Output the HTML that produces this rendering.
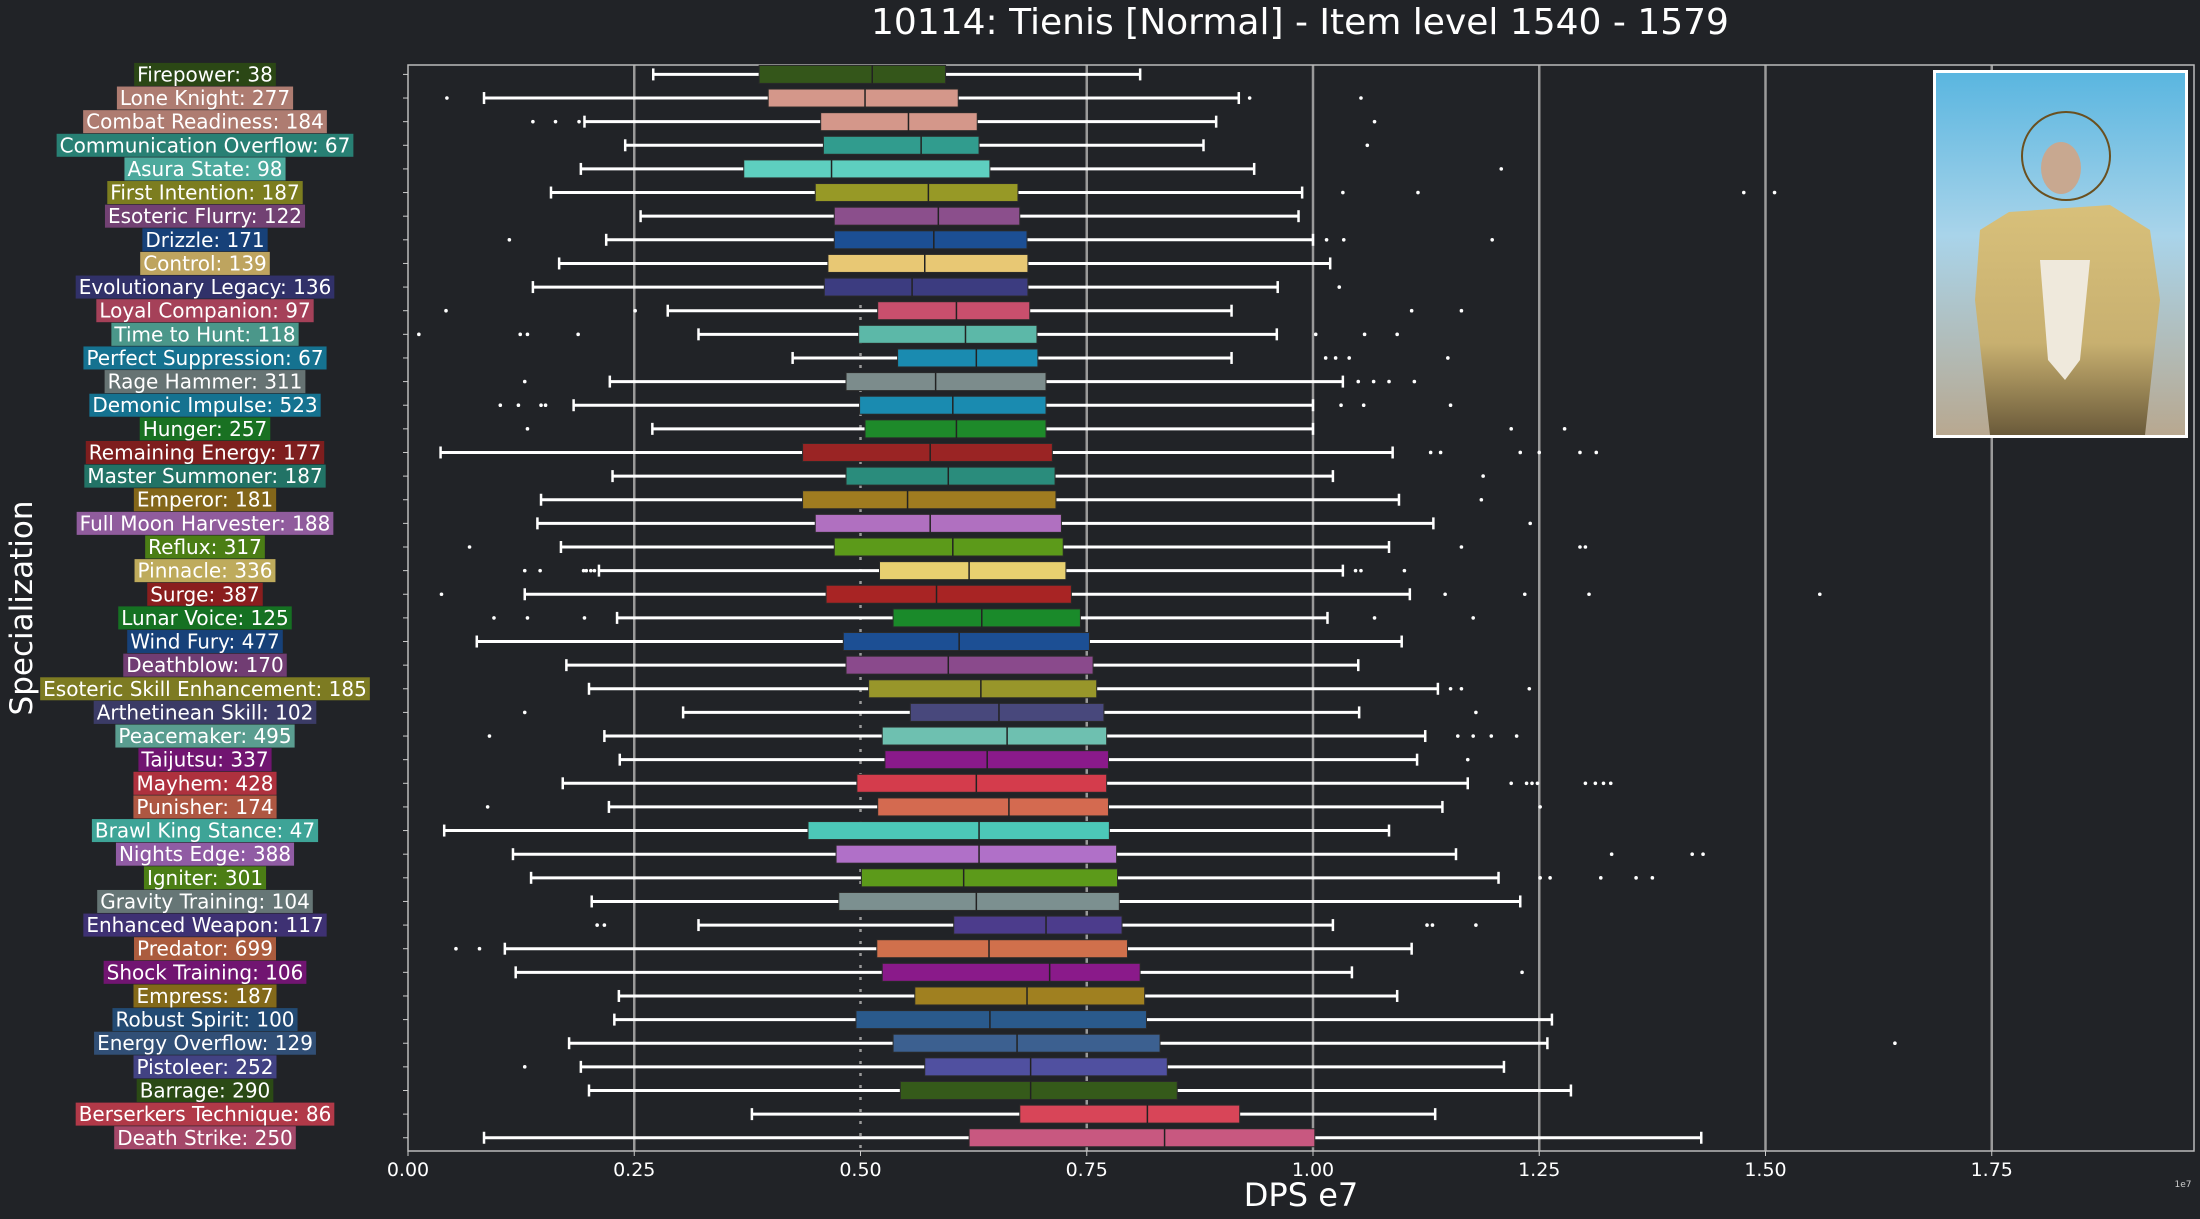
<!DOCTYPE html>
<html><head><meta charset="utf-8"><style>
html,body{margin:0;padding:0;background:#212327;}
svg{display:block;font-family:"DejaVu Sans","Liberation Sans",sans-serif;}
</style></head><body>
<svg id="chart" width="2200" height="1219" viewBox="0 0 2200 1219" xmlns="http://www.w3.org/2000/svg">
<rect x="0" y="0" width="2200" height="1219" fill="#212327"/>
<text x="1300" y="34" fill="#fff" font-size="36" text-anchor="middle">10114: Tienis [Normal] - Item level 1540 - 1579</text>
<text x="1301" y="1206" fill="#fff" font-size="32" text-anchor="middle">DPS e7</text>
<text x="2183" y="1187" fill="#ccc" font-size="9" text-anchor="middle">1e7</text>
<text transform="translate(32,608) rotate(-90)" fill="#fff" font-size="31" text-anchor="middle">Specialization</text>
<g id="grid"></g><g id="boxes"></g><g id="labels"></g><g id="xticks"></g>
<g>
<defs><linearGradient id="sky" x1="0" y1="0" x2="0" y2="1"><stop offset="0" stop-color="#5ab6e0"/><stop offset="0.45" stop-color="#a9d4ea"/><stop offset="1" stop-color="#b8a890"/></linearGradient>
<linearGradient id="gold" x1="0" y1="0" x2="0" y2="1"><stop offset="0" stop-color="#d8c07a"/><stop offset="0.6" stop-color="#c8b070"/><stop offset="1" stop-color="#6a5a3a"/></linearGradient></defs>
<rect x="1933" y="70" width="255" height="368" fill="#fff"/>
<rect x="1936" y="73" width="249" height="362" fill="url(#sky)"/>
<circle cx="2066" cy="156" r="44" fill="none" stroke="#6a5020" stroke-width="2"/>
<ellipse cx="2061" cy="168" rx="20" ry="26" fill="#c8a890"/>
<path d="M2009,212 L2110,205 L2150,230 L2160,300 L2145,435 L1990,435 L1975,300 L1980,230 Z" fill="url(#gold)"/>
<path d="M2040,260 L2090,260 L2080,360 L2065,380 L2048,360 Z" fill="#efe9dc"/>
</g>
</svg>
<script>
const categories=["Firepower: 38","Lone Knight: 277","Combat Readiness: 184","Communication Overflow: 67","Asura State: 98","First Intention: 187","Esoteric Flurry: 122","Drizzle: 171","Control: 139","Evolutionary Legacy: 136","Loyal Companion: 97","Time to Hunt: 118","Perfect Suppression: 67","Rage Hammer: 311","Demonic Impulse: 523","Hunger: 257","Remaining Energy: 177","Master Summoner: 187","Emperor: 181","Full Moon Harvester: 188","Reflux: 317","Pinnacle: 336","Surge: 387","Lunar Voice: 125","Wind Fury: 477","Deathblow: 170","Esoteric Skill Enhancement: 185","Arthetinean Skill: 102","Peacemaker: 495","Taijutsu: 337","Mayhem: 428","Punisher: 174","Brawl King Stance: 47","Nights Edge: 388","Igniter: 301","Gravity Training: 104","Enhanced Weapon: 117","Predator: 699","Shock Training: 106","Empress: 187","Robust Spirit: 100","Energy Overflow: 129","Pistoleer: 252","Barrage: 290","Berserkers Technique: 86","Death Strike: 250"];
const colors=["#34561a","#d4978a","#d4978a","#319c8e","#5ecfbf","#979926","#8b4f8c","#1c4f94","#e8c874","#3c3c80","#c94f6d","#5cb8a8","#1a8bb0","#7c8c8c","#1a8bb0","#1e8a2a","#9a2424","#2a8c7c","#a07c20","#b070c0","#5c9a1a","#e8d070","#a82424","#1a8a2a","#1c4f94","#8a4a8c","#98962a","#48487c","#6ec0b0","#8a1a8a","#d43c4c","#d46a50","#4cc8b8","#b070c8","#5c9a1a","#7c9090","#4c3c8c","#d0704c","#8a1a8a","#a08020","#2a5a8c","#3c6090","#5050a0","#355a1a","#d84558","#c85880"];
const whiskerLow=[0.271,0.084,0.195,0.240,0.191,0.158,0.257,0.219,0.167,0.138,0.287,0.321,0.425,0.223,0.183,0.270,0.036,0.226,0.147,0.143,0.169,0.211,0.129,0.231,0.076,0.175,0.200,0.304,0.217,0.234,0.171,0.222,0.040,0.116,0.136,0.203,0.321,0.107,0.119,0.233,0.228,0.178,0.191,0.200,0.380,0.084];
const q1=[0.388,0.398,0.456,0.459,0.371,0.450,0.471,0.471,0.464,0.460,0.519,0.498,0.541,0.484,0.499,0.505,0.436,0.484,0.436,0.450,0.471,0.521,0.462,0.536,0.481,0.484,0.509,0.555,0.524,0.527,0.496,0.519,0.442,0.473,0.501,0.476,0.603,0.518,0.524,0.560,0.495,0.536,0.571,0.544,0.676,0.620];
const medians=[0.513,0.505,0.553,0.567,0.468,0.575,0.586,0.581,0.571,0.557,0.606,0.616,0.628,0.583,0.602,0.606,0.577,0.597,0.552,0.577,0.602,0.620,0.584,0.634,0.609,0.597,0.633,0.653,0.662,0.640,0.628,0.664,0.631,0.631,0.614,0.628,0.705,0.642,0.709,0.684,0.643,0.673,0.688,0.688,0.817,0.836];
const q3=[0.594,0.608,0.629,0.631,0.643,0.674,0.676,0.684,0.685,0.685,0.687,0.695,0.696,0.705,0.705,0.705,0.712,0.715,0.716,0.722,0.724,0.727,0.733,0.743,0.753,0.757,0.761,0.769,0.772,0.774,0.772,0.774,0.775,0.783,0.784,0.786,0.789,0.795,0.809,0.814,0.816,0.831,0.839,0.850,0.919,1.002];
const whiskerHigh=[0.809,0.918,0.893,0.879,0.935,0.988,0.984,1.0,1.019,0.961,0.910,0.960,0.910,1.033,1.0,1.0,1.088,1.022,1.095,1.133,1.084,1.033,1.107,1.016,1.098,1.050,1.138,1.051,1.124,1.115,1.171,1.143,1.084,1.158,1.205,1.229,1.022,1.109,1.043,1.093,1.264,1.259,1.211,1.285,1.135,1.429];
const outliers=[[],[0.043,0.930,1.053],[0.138,0.163,0.189,1.068],[1.060],[1.208],[1.033,1.116,1.476,1.510],[],[0.112,1.015,1.034,1.198],[],[1.029],[0.042,0.251,1.109,1.164],[0.012,0.124,0.132,0.188,1.003,1.057,1.093],[1.014,1.025,1.040,1.149],[0.129,1.050,1.067,1.084,1.112],[0.102,0.122,0.147,0.152,1.031,1.056,1.152],[0.132,1.219,1.278],[1.130,1.141,1.229,1.250,1.295,1.313],[1.188],[1.186],[1.240],[0.068,1.164,1.295,1.301],[0.129,0.146,0.194,0.197,0.202,0.206,1.047,1.053,1.101],[0.037,1.146,1.234,1.305,1.560],[0.095,0.132,0.195,1.068,1.177],[],[],[1.152,1.164,1.239],[0.129,1.180],[0.090,1.160,1.177,1.197,1.225],[1.171],[1.219,1.236,1.242,1.248,1.301,1.312,1.321,1.329],[0.088,1.251],[],[1.330,1.419,1.431],[1.251,1.262,1.318,1.357,1.375],[],[0.209,0.217,1.126,1.132,1.180],[0.053,0.079],[1.231],[],[],[1.643],[0.129],[],[],[]];
const xTicks=[0,0.25,0.5,0.75,1.0,1.25,1.5,1.75];
const xTickLabels=["0.00","0.25","0.50","0.75","1.00","1.25","1.50","1.75"];

const NS="http://www.w3.org/2000/svg";
const L=408,R=2194,T=65,B=1151;
function xs(v){return L+v*905;}
function ys(i){return 74.4+i*23.63;}
function mk(tag,attrs,parent){const e=document.createElementNS(NS,tag);for(const k in attrs)e.setAttribute(k,attrs[k]);parent.appendChild(e);return e;}
const grid=document.getElementById('grid'),boxes=document.getElementById('boxes'),labels=document.getElementById('labels'),xt=document.getElementById('xticks');

xTicks.forEach((t,k)=>{
  if(t>0){
    const g=mk('line',{x1:xs(t),x2:xs(t),y1:T,y2:B,stroke:'#9a9a9a','stroke-width':2.5},grid);
    if(t===0.5){g.setAttribute('stroke-dasharray','3,9');}
    
    
  }
  const tk=mk('line',{x1:xs(t),x2:xs(t),y1:B,y2:B+5,stroke:'#ccc','stroke-width':1},xt);
  
  
  const tl=mk('text',{x:xs(t),y:B+25,fill:'#fff','font-size':19,'text-anchor':'middle'},xt);
  tl.textContent=xTickLabels[k];
  
  
});
const frame=mk('rect',{x:L,y:T,width:R-L,height:B-T,fill:'none',stroke:'#bbb','stroke-width':1.5},grid);



categories.forEach((c,i)=>{
  const y=ys(i),col=colors[i];
  const g=mk('g',{},boxes);
  
  
  mk('line',{x1:L-5,x2:L,y1:y,y2:y,stroke:'#ccc','stroke-width':1},g);
  mk('line',{x1:xs(whiskerLow[i]),x2:xs(q1[i]),y1:y,y2:y,stroke:'#fff','stroke-width':3},g);
  mk('line',{x1:xs(q3[i]),x2:xs(whiskerHigh[i]),y1:y,y2:y,stroke:'#fff','stroke-width':3},g);
  mk('line',{x1:xs(whiskerLow[i]),x2:xs(whiskerLow[i]),y1:y-6,y2:y+6,stroke:'#fff','stroke-width':2.5},g);
  mk('line',{x1:xs(whiskerHigh[i]),x2:xs(whiskerHigh[i]),y1:y-6,y2:y+6,stroke:'#fff','stroke-width':2.5},g);
  mk('rect',{x:xs(q1[i]),y:y-9,width:xs(q3[i])-xs(q1[i]),height:18,fill:col,stroke:'#2a2a2a','stroke-width':1},g);
  mk('line',{x1:xs(medians[i]),x2:xs(medians[i]),y1:y-9,y2:y+9,stroke:'#222','stroke-width':1.5},g);
  outliers[i].forEach(v=>{mk('circle',{cx:xs(v),cy:y,r:1.8,fill:'#fff'},g);});
  const lg=mk('g',{},labels);
  
  
  const tx=mk('text',{x:205,y:y+7,fill:'#fff','font-size':20,'text-anchor':'middle'},lg);
  tx.textContent=c;
  const w=tx.getComputedTextLength()+6;
  const bg=mk('rect',{x:205-w/2,y:y-11.5,width:w,height:23,fill:col,style:'filter:brightness(0.82)'},lg);
  lg.insertBefore(bg,tx);
});
</script>
</body></html>
